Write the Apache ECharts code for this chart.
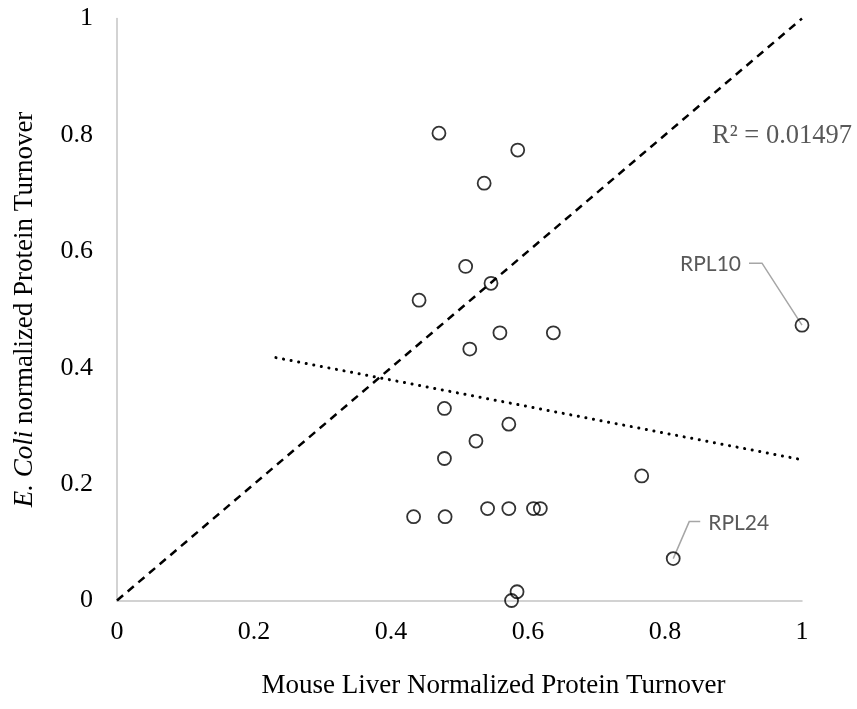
<!DOCTYPE html>
<html>
<head>
<meta charset="utf-8">
<script src="https://cdn.jsdelivr.net/npm/echarts@6/dist/echarts.min.js"></script>
<style>
  html, body { margin: 0; padding: 0; background: #fff; }
  #chart { width: 857px; height: 709px; }
</style>
</head>
<body>
<div id="chart"></div>
<script>
// mouse liver turnover (x) vs E. coli turnover (y)
const mouseTurnover = [0.470, 0.585, 0.536, 0.509, 0.546, 0.441, 0.559, 0.637, 0.515,
  0.478, 0.572, 0.524, 0.478, 0.766, 0.433, 0.479, 0.541, 0.572, 0.608, 0.618,
  0.812, 0.584, 0.576, 1.000]
const ecoliTurnover = [0.803, 0.774, 0.717, 0.574, 0.545, 0.516, 0.460, 0.460, 0.432,
  0.330, 0.303, 0.274, 0.244, 0.214, 0.144, 0.144, 0.158, 0.158, 0.158, 0.158,
  0.072, 0.015, 0.000, 0.473]
const proteinNames = ['', '', '', '', '', '', '', '', '', '', '', '', '', '', '', '', '', '', '', '',
  'RPL24', '', '', 'RPL10']
const identityLine = [[0, 0], [1, 1]]
const trendRange = [0.232, 1.0]
const r2Text = 'R² = 0.01497'

let points = mouseTurnover.map((x, i) => [x, ecoliTurnover[i]])

// least squares trend line
let n = points.length
let mx = mouseTurnover.reduce((a, b) => a + b, 0) / n
let my = ecoliTurnover.reduce((a, b) => a + b, 0) / n
let sxy = 0, sxx = 0
points.forEach(p => { sxy += (p[0] - mx) * (p[1] - my); sxx += (p[0] - mx) * (p[0] - mx) })
let slope = sxy / sxx
let icpt = my - slope * mx
let trendLine = trendRange.map(x => [x, icpt + slope * x])

// labelled proteins
let labelled = []
proteinNames.forEach((nm, i) => { if (nm) labelled.push([mouseTurnover[i], ecoliTurnover[i], nm]) })
let leaderStyle = {
  RPL10: { elbow: [-40, -62], end: [-53, -62], text: [-61, -61], align: 'right' },
  RPL24: { elbow: [16, -37], end: [27, -37], text: [35, -35], align: 'left' }
}

const serif = '"Liberation Serif", "Times New Roman", serif'
let chartElt = document.getElementById('chart')
let myChart = echarts.init(chartElt)
let option = {
  animation: false,
  backgroundColor: '#fff',
  grid: { left: 117, right: 55, top: 18.5, bottom: 108.5, containLabel: false },
  xAxis: {
    type: 'value', min: 0, max: 1, interval: 0.2,
    name: 'Mouse Liver Normalized Protein Turnover',
    nameLocation: 'middle', nameGap: 72,
    nameTextStyle: { fontFamily: serif, fontSize: 27, color: '#000', padding: [0, 0, 0, 68] },
    axisLine: { lineStyle: { color: '#c4c4c4', width: 1.5 } },
    axisTick: { show: false },
    splitLine: { show: false },
    axisLabel: {
      fontFamily: serif, fontSize: 26, color: '#000', margin: 19,
      formatter: v => String(+v.toFixed(1))
    }
  },
  yAxis: {
    type: 'value', min: 0, max: 1, interval: 0.2,
    name: '{i|E. Coli} normalized Protein Turnover',
    nameLocation: 'middle', nameGap: 79, nameRotate: 90,
    nameTextStyle: {
      fontFamily: serif, fontSize: 27, color: '#000',
      rich: { i: { fontFamily: serif, fontSize: 27, fontStyle: 'italic', color: '#000' } }
    },
    axisLine: { show: true, lineStyle: { color: '#c4c4c4', width: 1.5 } },
    axisTick: { show: false },
    splitLine: { show: false },
    axisLabel: {
      fontFamily: serif, fontSize: 26, color: '#000', margin: 24,
      formatter: v => String(+v.toFixed(1))
    }
  },
  graphic: [{
    type: 'text', right: 5, top: 123,
    style: { text: r2Text, fontFamily: serif, fontSize: 26.5, fill: '#595959' }
  }],
  series: [
    {
      type: 'line', data: identityLine, symbol: 'none', z: 3,
      lineStyle: { color: '#000', width: 2.5, type: [8, 6] }
    },
    {
      type: 'line', data: trendLine, symbol: 'none', z: 3,
      lineStyle: { color: '#000', width: 3, type: [0.1, 7.6], cap: 'round' }
    },
    {
      type: 'custom', data: labelled, z: 2,
      renderItem: (params, api) => {
        let pt = api.coord([api.value(0), api.value(1)])
        let nm = labelled[params.dataIndex][2]
        let s = leaderStyle[nm]
        return {
          type: 'group',
          children: [
            {
              type: 'polyline',
              shape: { points: [pt, [pt[0] + s.elbow[0], pt[1] + s.elbow[1]], [pt[0] + s.end[0], pt[1] + s.end[1]]] },
              style: { stroke: '#a6a6a6', lineWidth: 1.5, fill: null }
            },
            {
              type: 'text', x: pt[0] + s.text[0], y: pt[1] + s.text[1],
              style: {
                text: nm, fontFamily: 'Lato, "Open Sans", sans-serif', fontSize: 21,
                fill: '#595959', align: s.align, verticalAlign: 'middle'
              }
            }
          ]
        }
      }
    },
    {
      type: 'scatter', data: points, symbol: 'circle', symbolSize: 13, z: 4,
      itemStyle: { color: 'rgba(0,0,0,0)', borderColor: '#000', borderWidth: 1.8 }
    }
  ]
}
myChart.setOption(option)
</script>
</body>
</html>
